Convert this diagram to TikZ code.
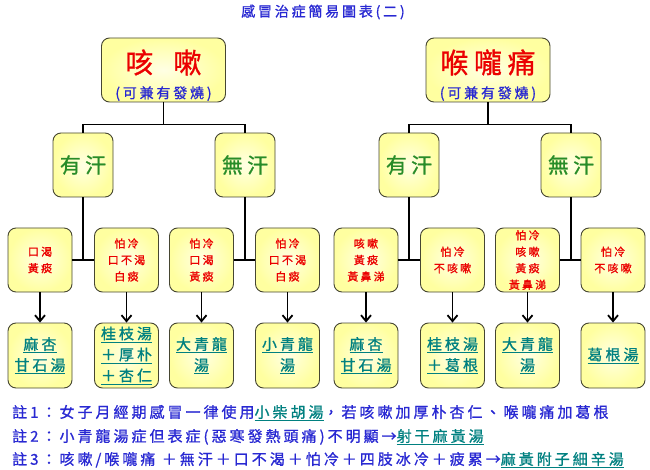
\documentclass[tikz,border=0pt]{standalone}
\usepackage{fontspec}
\setmainfont{Noto Sans CJK TC}
\newfontfamily\cjk[LetterSpace=20,FakeBold=1]{Noto Sans CJK TC}
\usepackage{xcolor}
\usepackage{tikz}
\usetikzlibrary{positioning,arrows.meta}
\definecolor{boxfill}{RGB}{255,255,160}
\definecolor{boxcore}{RGB}{255,255,228}
\definecolor{boxedge}{RGB}{70,70,50}
\definecolor{titleblue}{RGB}{40,40,210}
\definecolor{labelred}{RGB}{235,0,0}
\definecolor{sweatgreen}{RGB}{40,140,40}
\definecolor{rxteal}{RGB}{0,128,128}
\newcommand{\rxname}[1]{\textcolor{rxteal}{\underline{#1}}}
\tikzset{
  card/.style={draw=boxedge, line width=0.9pt, rounded corners=8pt, inner color=boxcore,
    outer color=boxfill, align=center, inner sep=0pt},
  topbox/.style={card, minimum width=124pt, minimum height=64pt,
    font=\cjk\fontsize{14}{25}\selectfont},
  sweatbox/.style={card, minimum width=60pt, minimum height=64pt,
    font=\cjk\fontsize{21}{24}\selectfont, text=sweatgreen},
  signbox/.style={card, minimum width=64pt, minimum height=64pt,
    font=\cjk\fontsize{11}{16.5}\selectfont, text=labelred},
  rxbox/.style={card, minimum width=64pt, minimum height=65pt,
    font=\cjk\fontsize{15}{21}\selectfont, text=rxteal},
  link/.style={line width=1.8pt, draw=black},
  down/.style={-{Straight Barb[length=6pt,width=10pt]}, line width=1.8pt, draw=black},
  notetext/.style={anchor=west, font=\cjk\fontsize{15}{18}\selectfont, text=titleblue,
    inner sep=0pt},
}

\begin{document}
\begin{tikzpicture}[x=1pt,y=-1pt]
  \useasboundingbox (0,0) rectangle (650,470);
  \node[font=\cjk\fontsize{14}{16}\selectfont, text=titleblue] (title) at (323,12)
       {感冒治症簡易圖表(二)};
  % top level
  \node[topbox] (cough) at (163.5,70)
       {\rule{0pt}{34pt}{\fontsize{28}{28}\selectfont\textcolor{labelred}{咳\hspace{20pt}嗽}}\\
        \textcolor{titleblue}{(可兼有發燒)}};
  \node[topbox] (throat) at (488,70)
       {\rule{0pt}{34pt}{\fontsize{28}{28}\selectfont\textcolor{labelred}{喉嚨痛}}\\
        \textcolor{titleblue}{(可兼有發燒)}};
  % sweat or not
  \node[sweatbox] (c-sw) at (83,165) {有汗};
  \node[sweatbox] (c-dry) at (245,165) {無汗};
  \node[sweatbox] (t-sw) at (409,165) {有汗};
  \node[sweatbox] (t-dry) at (571,165) {無汗};
  % signs
  \node[signbox] (c-sign1) at (40,260) {口渴\\黃痰};
  \node[signbox] (c-sign2) at (126.5,260) {怕冷\\口不渴\\白痰};
  \node[signbox] (c-sign3) at (201.5,260) {怕冷\\口渴\\黃痰};
  \node[signbox] (c-sign4) at (287.5,260) {怕冷\\口不渴\\白痰};
  \node[signbox] (t-sign1) at (366,260) {咳嗽\\黃痰\\黃鼻涕};
  \node[signbox] (t-sign2) at (452.5,260) {怕冷\\不咳嗽};
  \node[signbox] (t-sign3) at (527.5,260) {怕冷\\咳嗽\\黃痰\\黃鼻涕};
  \node[signbox] (t-sign4) at (613,260) {怕冷\\不咳嗽};
  % remedies
  \node[rxbox] (c-rx1) at (40,355.5) {\underline{麻杏}\\\underline{甘石湯}};
  \node[rxbox] (c-rx2) at (126.5,355.5) {\underline{桂枝湯}\\\underline{＋厚朴}\\\underline{＋杏仁}};
  \node[rxbox] (c-rx3) at (201.5,355.5) {\underline{大青龍}\\\underline{湯}};
  \node[rxbox] (c-rx4) at (287.5,355.5) {\underline{小青龍}\\\underline{湯}};
  \node[rxbox] (t-rx1) at (366,355.5) {\underline{麻杏}\\\underline{甘石湯}};
  \node[rxbox] (t-rx2) at (452.5,355.5) {\underline{桂枝湯}\\\underline{＋葛根}};
  \node[rxbox] (t-rx3) at (527.5,355.5) {\underline{大青龍}\\\underline{湯}};
  \node[rxbox] (t-rx4) at (613,355.5) {\underline{葛根湯}};
  % tree lines
  \draw[link] (cough.south) -- ++(0,22) -| (c-sw.north);
  \draw[link] (cough.south) -- ++(0,22) -| (c-dry.north);
  \draw[link] (throat.south) -- ++(0,22) -| (t-sw.north);
  \draw[link] (throat.south) -- ++(0,22) -| (t-dry.north);
  \draw[link] (c-sw.south) -- (c-sw.south |- c-sign1.east);
  \draw[link] (c-sign1.east) -- (c-sign2.west);
  \draw[link] (c-dry.south) -- (c-dry.south |- c-sign3.east);
  \draw[link] (c-sign3.east) -- (c-sign4.west);
  \draw[link] (t-sw.south) -- (t-sw.south |- t-sign1.east);
  \draw[link] (t-sign1.east) -- (t-sign2.west);
  \draw[link] (t-dry.south) -- (t-dry.south |- t-sign3.east);
  \draw[link] (t-sign3.east) -- (t-sign4.west);
  \foreach \s in {c-,t-}
    \foreach \i in {1,2,3,4}
      \draw[down] (\s sign\i.south) -- (\s rx\i.north);
  % notes
  \node[notetext] (note1) at (12,413)
       {註1：女子月經期感冒一律使用\rxname{小柴胡湯}，若咳嗽加厚朴杏仁、喉嚨痛加葛根};
  \node[notetext] (note2) at (12,437)
       {註2：小青龍湯症但表症(惡寒發熱頭痛)不明顯→\rxname{射干麻黃湯}};
  \node[notetext] (note3) at (12,460)
       {註3：咳嗽/喉嚨痛 ＋無汗＋口不渴＋怕冷＋四肢冰冷＋疲累→\rxname{麻黃附子細辛湯}};
\end{tikzpicture}
\end{document}
